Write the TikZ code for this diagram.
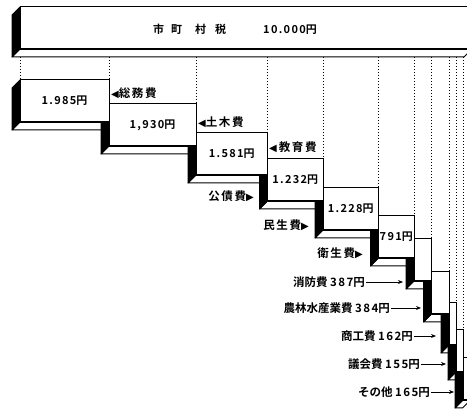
\documentclass[tikz,border=0pt]{standalone}
\usepackage{fontspec}
\setmainfont{Noto Sans CJK JP}[BoldFont={Noto Sans CJK JP Bold}]
\newfontfamily\trifont{DejaVu Sans}
\usetikzlibrary{arrows.meta,calc}
\pgfdeclarelayer{paper}
\pgfdeclarelayer{dashlayer}
\pgfdeclarelayer{bglayer}
\pgfdeclarelayer{midlayer}
\pgfsetlayers{paper,dashlayer,bglayer,midlayer,main}
\newcommand\nm[1]{{\addfontfeature{LetterSpace=12}#1}}
\newcommand\wide[1]{{\addfontfeature{LetterSpace=14}#1}}
\newcommand\lt{{\trifont\fontsize{10}{10}\selectfont ◀}}
\newcommand\rt{{\trifont\fontsize{10}{10}\selectfont ▶}}
\tikzset{
  frontface/.style={draw, fill=white, line width=1pt, inner sep=0pt, outer sep=0pt,
    minimum height=42pt, font=\bfseries\fontsize{11}{11}\selectfont},
  sideface/.style={fill=black, draw=black, line width=0.8pt, line join=round},
  floorface/.style={fill=white, draw=black, line width=1pt, line join=round},
  frontedge/.style={line width=2.2pt},
  guide/.style={draw, line width=0.9pt, dash pattern=on 1.5pt off 1.5pt},
  lab/.style={font=\bfseries\fontsize{11.5}{11.5}\selectfont, inner sep=1pt},
  arr/.style={-{Stealth[length=5pt,width=4pt]}, line width=0.9pt},
}
\newcommand\stairbox[5]{%
  \node[frontface, minimum width={(#3-#2)*1pt}] (#1) at ({(#2+#3)/2},{#4+21}) {#5};
  \draw[frontedge] (#1.south west) -- (#1.south east);
  \begin{pgfonlayer}{midlayer}
    \path[sideface] (#1.north west) -- ++(-8,8) -- ++(0,42) -- (#1.south west) -- cycle;
  \end{pgfonlayer}
  \begin{pgfonlayer}{bglayer}
    \path[floorface] (#1.south west) -- (#1.south east) -- ++(-8,8) -- ++({-(#3-#2)},0) -- cycle;
  \end{pgfonlayer}
}
\begin{document}
\begin{tikzpicture}[x=1pt,y=-1pt]
\begin{pgfonlayer}{paper}
\fill[white] (0,0) rectangle (467,409);
\end{pgfonlayer}
\useasboundingbox (0,0) rectangle (467,409);
% top bar
\stairbox{T}{20}{472}{7}{}
\node[lab, anchor=west, font=\bfseries\fontsize{11}{11}\selectfont] (Ttext) at (152,29)
  {市\hspace{7pt}町\hspace{13pt}村\hspace{9pt}税\hspace{37pt}\nm{10.000}円};
\coordinate (Tb) at ($(T.south west)+(0,8)$);
% stair boxes
\stairbox{b1}{20}{109}{80}{\nm{1.985}円}
\stairbox{b2}{109}{196}{104}{\nm{1,930}円}
\stairbox{b3}{196}{267.5}{133}{\nm{1.581}円}
\stairbox{b4}{267.5}{323}{159}{\nm{1.232}円}
\stairbox{b5}{323}{378.5}{188}{\nm{1.228}円}
\stairbox{b6}{378.5}{414}{216}{\nm{791}円}
\stairbox{b7}{414}{431.5}{239}{}
\stairbox{b8}{431.5}{449}{272}{}
\stairbox{b9}{449}{456}{303}{}
\stairbox{b10}{456}{463}{330}{}
\stairbox{b11}{463}{470.5}{358}{}
% guide lines
\begin{pgfonlayer}{dashlayer}
  \draw[guide] (b1.north west |- Tb) -- (b1.north west);
  \foreach \b in {b1,b2,b3,b4,b5,b6,b7,b8,b9,b10,b11}
    \draw[guide] (\b.north east |- Tb) -- (\b.north east);
\end{pgfonlayer}
% labels
\node[lab, anchor=west] (lsomu) at (110,93) {\lt\wide{総務費}};
\node[lab, anchor=west] (ldoboku) at (197,122) {\lt\wide{土木費}};
\node[lab, anchor=west] (lkyoiku) at (268,147) {\lt\,\wide{教育費}};
\node[lab, anchor=east] (lkosai) at (255,196) {\wide{公債費}\rt};
\node[lab, anchor=east] (lminsei) at (310,225) {\wide{民生費}\rt};
\node[lab, anchor=east] (leisei) at (364,253) {\wide{衛生費}\rt};
\node[lab, anchor=east] (lshobo) at (366,282) {消防費 \nm{387}円};
\node[lab, anchor=east] (lnorin) at (391,308) {農林水産業費 \nm{384}円};
\node[lab, anchor=east] (lshoko) at (414,336) {商工費 \nm{162}円};
\node[lab, anchor=east] (lgikai) at (421,364) {議会費 \nm{155}円};
\node[lab, anchor=east] (lsonota) at (431,392) {その他 \nm{165}円};
\coordinate (a7) at (403,282);
\coordinate (a8) at (421,308);
\coordinate (a9) at (436,336);
\coordinate (a10) at (446,364);
\coordinate (a11) at (454,392);
\draw[arr] (lshobo.east) -- (a7);
\draw[arr] (lnorin.east) -- (a8);
\draw[arr] (lshoko.east) -- (a9);
\draw[arr] (lgikai.east) -- (a10);
\draw[arr] (lsonota.east) -- (a11);
\end{tikzpicture}
\end{document}
